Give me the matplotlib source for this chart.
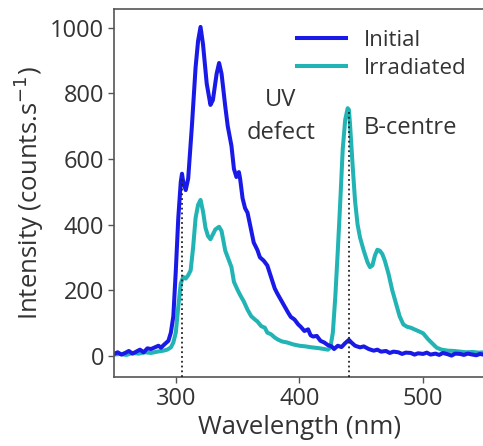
import matplotlib
matplotlib.use("Agg")
import matplotlib.pyplot as plt

plt.rcParams['font.family'] = ['Open Sans', 'DejaVu Sans']

# Initial spectrum (wavelength nm, intensity counts/s)
wl_initial = [250, 253, 256, 259, 262, 265, 268, 271, 274, 277, 280, 283, 286, 288, 291,
              294, 296, 298, 300, 302, 304, 305, 306, 308, 310, 313, 316, 318, 320, 322,
              325, 328, 330, 333, 335, 337, 340, 342, 345, 347, 349, 351, 352, 354, 356,
              358, 360, 363, 366, 368, 371, 374, 377, 380, 382, 385, 388, 391, 393, 396,
              399, 401, 404, 407, 409, 411, 414, 417, 420, 423, 426, 428, 431, 434, 437,
              440, 442, 445, 449, 452, 456, 460, 463, 466, 470, 473, 476, 480, 483, 486,
              490, 493, 496, 500, 503, 506, 510, 513, 516, 520, 523, 526, 530, 533, 536,
              540, 543, 546, 550]
int_initial = [5, 10, 3, 8, 14, 6, 12, 18, 10, 22, 20, 25, 30, 24, 35,
               45, 70, 120, 260, 420, 530, 555, 530, 505, 540, 700, 880, 960, 1003, 950,
               830, 765, 780, 860, 893, 860, 760, 700, 640, 570, 545, 560, 540, 480, 450,
               436, 400, 345, 322, 300, 290, 275, 240, 205, 190, 170, 150, 130, 118, 110,
               95, 88, 75, 80, 62, 58, 60, 45, 40, 32, 28, 20, 30, 26, 38,
               48, 40, 30, 25, 28, 20, 15, 18, 12, 14, 8, 12, 10, 5, 9,
               8, 3, 7, 5, 9, 3, 6, 2, 8, 4, 0, 6, 5, 2, 6,
               3, 1, 5, 2]

# Irradiated spectrum
wl_irr = [250, 255, 260, 265, 270, 275, 280, 285, 290, 293, 296, 298, 300, 302, 304,
          306, 308, 310, 312, 314, 316, 318, 320, 322, 324, 326, 328, 330, 332, 335,
          337, 340, 342, 345, 347, 350, 352, 355, 358, 361, 364, 366, 369, 372, 374,
          377, 380, 383, 386, 390, 395, 400, 405, 410, 415, 420, 423, 425, 427, 429,
          431, 433, 435, 437, 439, 440, 441, 443, 445, 447, 449, 452, 455, 457, 459,
          461, 463, 465, 467, 469, 472, 475, 478, 481, 484, 487, 490, 493, 496, 500,
          504, 508, 511, 515, 520, 525, 530, 535, 540, 545, 550]
int_irr = [3, 5, 2, 8, 6, 10, 8, 12, 15, 18, 25, 40, 70, 150, 220,
           240, 235, 245, 260, 330, 420, 460, 475, 440, 390, 365, 355, 370, 385, 393,
           380, 320, 300, 270, 225, 200, 185, 165, 140, 120, 110, 104, 90, 85, 70,
           65, 55, 48, 43, 40, 34, 30, 28, 25, 23, 20, 18, 25, 70, 180,
           320, 470, 630, 720, 755, 750, 700, 580, 470, 400, 360, 320, 285, 270, 275,
           305, 323, 320, 310, 290, 250, 200, 160, 120, 95, 88, 85, 80, 75, 68,
           50, 35, 24, 18, 15, 14, 12, 10, 11, 9, 10]

# Reference peaks marked with dotted lines
mark_wl = [305, 440]
mark_top = [540, 752]

FS = 17
FL = 18.5
TXT = '#333333'

fig = plt.figure(figsize=(4.83, 4.46), dpi=100)
ax = fig.add_axes([0.236, 0.155, 0.768, 0.825])

ax.plot(wl_initial, int_initial, color='#1a1ae8', lw=2.9, label='Initial', zorder=2.5)
ax.plot(wl_irr, int_irr, color='#22b4b4', lw=2.9, label='Irradiated', zorder=2)

ax.set_xlim(250, 550)
ax.set_ylim(-65, 1058)
for xw, yt in zip(mark_wl, mark_top):
    ax.plot([xw, xw], [-65, yt], color='#222222', ls=':', lw=1.3, zorder=3)

ax.set_xticks([300, 400, 500])
ax.set_yticks([0, 200, 400, 600, 800, 1000])
ax.tick_params(axis='both', labelsize=FS, colors='#555555', labelcolor=TXT,
               length=4, width=1, pad=3)
for s in ax.spines.values():
    s.set_color('#555555')
    s.set_linewidth(1.2)

ax.set_xlabel('Wavelength (nm)', fontsize=FL, color=TXT, labelpad=3)
ax.set_ylabel('Intensity (counts.s$^{-1}$)', fontsize=FL, color=TXT, labelpad=3)

ax.text(385, 780, 'UV', fontsize=FS, color=TXT, ha='center', va='center')
ax.text(385, 678, 'defect', fontsize=FS, color=TXT, ha='center', va='center')
ax.text(452, 695, 'B-centre', fontsize=FS, color=TXT, ha='left', va='center')

leg = ax.legend(loc='upper left', bbox_to_anchor=((297 - 114) / 371, (377 - 30) / 368),
                frameon=False, fontsize=16, handlelength=2.2, handletextpad=0.8,
                labelspacing=0.32, borderpad=0, borderaxespad=0)
for t in leg.get_texts():
    t.set_color(TXT)

fig.savefig('out.png', dpi=100)
